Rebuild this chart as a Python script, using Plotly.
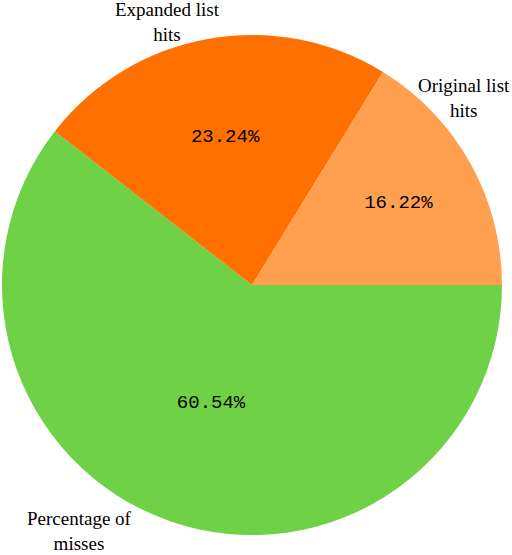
import plotly.graph_objects as go

# slice data, counterclockwise from 3 o'clock
labels = ["Original list hits", "Expanded list hits", "Percentage of misses"]
values = [16.22, 23.24, 60.54]
colors = ["#FFA050", "#FF7000", "#6FD246"]

# outside label text (manually placed like the source figure)
label_text = ["Original list<br>hits", "Expanded list<br>hits", "Percentage of<br>misses"]
label_pos = [(464, 98), (167, 22), (79, 531)]

W, H = 512, 555

# plotly only draws clockwise reliably from 3 o'clock, so feed the slices reversed
fig = go.Figure(
    data=[go.Pie(
        labels=labels[::-1],
        values=values[::-1],
        sort=False,
        direction="clockwise",
        rotation=90,
        marker=dict(colors=colors[::-1], line=dict(width=0)),
        texttemplate="%{value:.2f}%",
        textposition="inside",
        insidetextorientation="horizontal",
        insidetextfont=dict(family="Liberation Mono", size=19, color="black"),
        hoverinfo="label+value",
        showlegend=False,
        domain=dict(x=[2 / W, 502 / W], y=[20 / H, 520 / H]),
    )]
)

for txt, (px, py) in zip(label_text, label_pos):
    fig.add_annotation(
        x=px / W, y=1 - py / H, xref="paper", yref="paper",
        xanchor="center", yanchor="middle",
        text=txt, showarrow=False, align="center",
        font=dict(family="Liberation Serif", size=19, color="black"),
    )

fig.update_layout(
    width=W, height=H,
    margin=dict(l=0, r=0, t=0, b=0),
    paper_bgcolor="white",
    plot_bgcolor="white",
)
# drop the default body margin so the figure sits at the window's corner
fig.write_html("out.html", config={"displayModeBar": False},
               post_script="document.body.style.margin='0';")
